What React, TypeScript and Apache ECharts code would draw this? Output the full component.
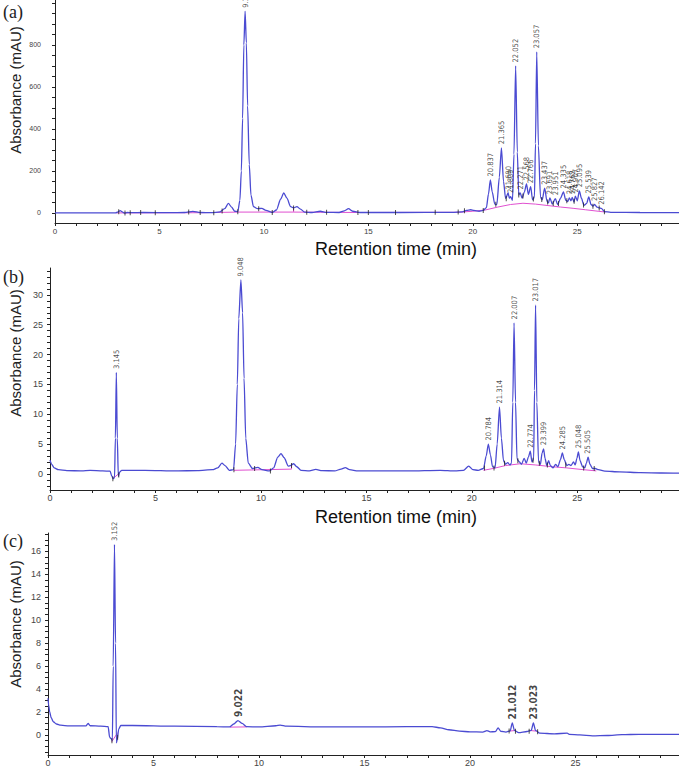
import React, { useEffect, useRef } from "react";
import * as echarts from "echarts";

// ---------- Panel (a) ----------
const traceA: number[][] = [
  [0, 0], [2.9, 0], [3.02, 5], [3.12, 11], [3.22, 5], [3.32, -1], [3.45, 2], [3.7, 1], [4.2, 2], [5.5, 1],
  [6.2, 2], [6.6, 7], [6.95, 2], [7.5, 1], [7.9, 5], [8.12, 20], [8.3, 45], [8.45, 28], [8.6, 8], [8.75, 6],
  [8.85, 60], [8.92, 200], [8.98, 450], [9.04, 800], [9.1, 960], [9.16, 810], [9.22, 510], [9.3, 230], [9.38, 85],
  [9.5, 30], [9.7, 20], [9.9, 22], [10.1, 12], [10.4, 2], [10.6, 14], [10.8, 65], [10.95, 95], [11.1, 70],
  [11.28, 30], [11.42, 24], [11.58, 30], [11.75, 18], [11.95, 4], [12.3, 2], [12.7, 8], [13.0, 3], [13.6, 2],
  [13.85, 10], [14.05, 20], [14.25, 8], [14.6, 2], [16.5, 2], [19.0, 3], [19.5, 5], [19.7, 12], [19.9, 15],
  [20.05, 12], [20.3, 8], [20.5, 12], [20.65, 25], [20.75, 90], [20.84, 157], [20.93, 100], [21.05, 42],
  [21.15, 40], [21.27, 170], [21.37, 310], [21.47, 150], [21.57, 68], [21.69, 95], [21.75, 70], [21.81, 78],
  [21.9, 60], [21.97, 280], [22.05, 700], [22.13, 290], [22.2, 85], [22.27, 95], [22.36, 70], [22.47, 100],
  [22.57, 138], [22.66, 88], [22.77, 125], [22.86, 62], [22.95, 75], [23.0, 330], [23.06, 767], [23.14, 320],
  [23.24, 75], [23.32, 62], [23.44, 118], [23.55, 55], [23.62, 48], [23.69, 72], [23.8, 42], [23.95, 68],
  [24.06, 40], [24.2, 70], [24.34, 100], [24.45, 60], [24.55, 55], [24.62, 72], [24.7, 58], [24.76, 74],
  [24.84, 52], [24.91, 80], [25.0, 58], [25.1, 105], [25.2, 70], [25.32, 36], [25.45, 45], [25.55, 76],
  [25.66, 40], [25.75, 32], [25.83, 40], [25.95, 28], [26.05, 24], [26.15, 22], [26.3, 6], [26.6, 3],
  [28, 2], [30, 1],
];
const baselineA: number[][][] = [
  [[2.95, 0], [7.0, 1], [8.75, 4], [11.42, 4], [11.42, 22]],
  [[11.42, 4], [14.6, 2], [19.3, 3], [20.0, 8], [20.6, 14], [21.2, 28], [21.8, 40], [22.4, 46], [23.0, 42],
    [23.6, 35], [24.2, 28], [24.8, 22], [25.4, 15], [26.0, 8], [26.35, 4]],
];
const markersA: number[][] = [
  [3.05, 6], [3.35, 0], [3.6, 1], [4.1, 2], [4.8, 1], [6.4, 4], [6.95, 2], [7.6, 1], [8.0, 9], [8.75, 6],
  [9.75, 20], [10.4, 2], [11.42, 24], [12.05, 3], [13.0, 3], [14.5, 2], [15.0, 2], [16.3, 2], [18.2, 3],
  [19.3, 4], [19.6, 10], [20.5, 12], [21.1, 41], [21.6, 68], [22.2, 85], [22.4, 80], [22.9, 66], [23.3, 64],
  [23.58, 52], [23.85, 45], [24.1, 45], [24.5, 58], [24.85, 55], [25.3, 38], [25.75, 32], [26.05, 24], [26.3, 6],
];
const peakTimesA = [9.103, 20.837, 21.365, 21.69, 21.809, 22.052, 22.271, 22.568, 22.766, 23.057, 23.437,
  23.691, 23.951, 24.335, 24.618, 24.762, 24.907, 25.095, 25.539, 25.827, 26.142];
const peakHeightsA = [960, 157, 310, 95, 78, 700, 95, 138, 125, 767, 118, 72, 68, 100, 72, 74, 80, 105, 76, 40, 22];
const peakLabelsA = ["9.103", "20.837", "21.365", "21.690", "21.809", "22.052", "22.271", "22.568", "22.766",
  "23.057", "23.437", "23.691", "23.951", "24.335", "24.618", "24.762", "24.907", "25.095", "25.539", "25.827", "26.142"];
const yLabelsA = [0, 200, 400, 600, 800];

// ---------- Panel (b) ----------
const traceB: number[][] = [
  [0, 2.3], [0.08, 1.6], [0.2, 1.0], [0.4, 0.7], [0.8, 0.55], [1.5, 0.5], [1.9, 0.58], [2.5, 0.5], [2.85, 0.45],
  [2.92, -0.3], [3.0, -0.8], [3.06, -0.6], [3.1, 6], [3.145, 17], [3.19, 6], [3.24, -0.4], [3.3, 0.3], [3.4, 0.6],
  [4.5, 0.6], [6.0, 0.5], [7.0, 0.55], [7.7, 0.7], [7.95, 1.0], [8.15, 1.8], [8.3, 1.4], [8.5, 0.6], [8.7, 0.7],
  [8.8, 5], [8.88, 15], [8.95, 26], [9.05, 32.5], [9.13, 27], [9.2, 16], [9.28, 6], [9.4, 1.8], [9.6, 0.9],
  [9.85, 1.1], [10.05, 0.7], [10.4, 0.5], [10.6, 1.0], [10.8, 2.8], [10.95, 3.4], [11.1, 2.7], [11.3, 1.3],
  [11.4, 1.4], [11.55, 1.7], [11.7, 1.2], [11.9, 0.6], [12.3, 0.5], [12.6, 0.75], [12.9, 0.55], [13.5, 0.5],
  [13.8, 0.8], [14.0, 1.05], [14.2, 0.7], [14.6, 0.5], [17, 0.5], [18.5, 0.6], [19.2, 0.5], [19.6, 0.6],
  [19.85, 1.3], [20.05, 0.7], [20.3, 0.6], [20.55, 0.9], [20.68, 3.0], [20.78, 5.0], [20.88, 3.2], [20.98, 1.2],
  [21.1, 1.0], [21.2, 5], [21.31, 11.2], [21.4, 6], [21.5, 2.2], [21.6, 1.6], [21.7, 1.9], [21.8, 1.5],
  [21.88, 1.8], [21.94, 12], [22.0, 25.3], [22.07, 12], [22.14, 2.5], [22.25, 2.0], [22.35, 1.6], [22.48, 2.6],
  [22.58, 1.8], [22.68, 2.8], [22.77, 3.8], [22.85, 2.0], [22.93, 2.5], [22.97, 14], [23.02, 28.3], [23.08, 12],
  [23.16, 2.0], [23.25, 1.6], [23.33, 3.5], [23.4, 4.2], [23.47, 2.6], [23.55, 1.4], [23.64, 2.2], [23.72, 1.4],
  [23.85, 1.0], [23.97, 1.6], [24.08, 1.2], [24.2, 2.4], [24.29, 3.5], [24.38, 2.4], [24.5, 1.4], [24.6, 1.6],
  [24.7, 1.4], [24.82, 2.0], [24.9, 1.5], [24.98, 2.6], [25.05, 3.7], [25.13, 2.2], [25.25, 1.2], [25.35, 1.0],
  [25.43, 1.8], [25.51, 2.8], [25.6, 1.6], [25.72, 0.9], [25.85, 0.9], [26.0, 0.7], [26.3, 0.45], [27, 0.35],
  [28, 0.2], [29, 0.15], [30, 0.1],
];
const baselineB: number[][][] = [
  [[2.98, -0.8], [3.28, 0.1]],
  [[8.72, 0.6], [11.45, 0.8], [11.45, 1.4]],
  [[20.55, 0.6], [21.0, 0.9], [21.6, 1.4], [22.3, 1.7], [23.0, 1.5], [23.8, 1.2], [24.5, 1.0], [25.3, 0.7], [25.9, 0.5]],
];
const markersB: number[][] = [
  [2.98, -0.8], [3.26, -0.2], [8.72, 0.7], [9.7, 0.9], [10.45, 0.5], [11.45, 1.4], [20.6, 1.0], [21.05, 1.0],
  [21.55, 1.8], [22.18, 2.2], [22.9, 2.3], [23.2, 1.8], [23.58, 1.5], [24.45, 1.5], [25.3, 1.0], [25.8, 0.9],
];
const peakTimesB = [3.145, 9.048, 20.784, 21.314, 22.007, 22.774, 23.017, 23.399, 24.285, 25.048, 25.505];
const peakHeightsB = [17, 32.5, 5.0, 11.2, 25.3, 3.8, 28.3, 4.2, 3.5, 3.7, 2.8];
const peakLabelsB = ["3.145", "9.048", "20.784", "21.314", "22.007", "22.774", "23.017", "23.399", "24.285", "25.048", "25.505"];
const yLabelsB = [0, 5, 10, 15, 20, 25, 30];

// ---------- Panel (c) ----------
const traceC: number[][] = [
  [0, 3.2], [0.03, 2.6], [0.08, 2.0], [0.15, 1.5], [0.25, 1.15], [0.4, 0.95], [0.6, 0.85], [1.0, 0.78],
  [1.8, 0.78], [1.9, 1.0], [2.0, 0.8], [2.5, 0.76], [2.85, 0.72], [2.92, -0.2], [3.0, -0.35], [3.05, -0.5],
  [3.09, 6], [3.15, 16.6], [3.2, 8], [3.24, -0.7], [3.28, -0.4], [3.35, 0.5], [3.45, 0.82], [4, 0.82],
  [6, 0.76], [8.0, 0.72], [8.6, 0.7], [8.8, 0.95], [9.0, 1.25], [9.2, 1.0], [9.4, 0.72], [10, 0.7],
  [10.8, 0.8], [11.0, 0.86], [11.3, 0.76], [13, 0.7], [15, 0.7], [17, 0.72], [18.2, 0.72], [18.6, 0.62],
  [19.0, 0.45], [19.5, 0.33], [20, 0.27], [20.6, 0.25], [20.8, 0.38], [20.95, 0.27], [21.2, 0.28],
  [21.33, 0.62], [21.45, 0.32], [21.7, 0.25], [21.9, 0.35], [22.0, 1.05], [22.1, 0.4], [22.3, 0.2],
  [22.7, 0.3], [22.9, 0.4], [23.0, 1.05], [23.1, 0.4], [23.3, 0.15], [24, 0.1], [24.6, 0.15], [24.7, 0.05],
  [25.2, 0.0], [25.8, -0.08], [26.5, -0.05], [27.2, 0.02], [28, 0.05], [30, 0.05],
];
const baselineC: number[][][] = [
  [[3.02, -0.6], [3.3, 0.2]],
  [[8.62, 0.68], [9.42, 0.7]],
  [[21.88, 0.34], [22.12, 0.38]],
  [[22.88, 0.38], [23.15, 0.33]],
];
const markersC: number[][] = [[3.03, -0.5], [3.3, -0.2], [21.85, 0.35], [22.15, 0.32], [22.8, 0.33], [23.2, 0.28]];
const minorPeakTimesC = [3.152];
const minorPeakHeightsC = [16.6];
const minorPeakLabelsC = ["3.152"];
const peakTimesC = [9.022, 22.0, 23.023];
const peakHeightsC = [1.25, 1.05, 1.05];
const peakLabelsC = ["9.022", "21.012", "23.023"];
const yLabelsC = [0, 2, 4, 6, 8, 10, 12, 14, 16];

const xLabels = [0, 5, 10, 15, 20, 25];
const xTicks = [0, 1, 2, 3, 4, 5, 6, 7, 8, 9, 10, 11, 12, 13, 14, 15, 16, 17, 18, 19, 20, 21, 22, 23, 24, 25, 26, 27, 28, 29];
const yTicksA = [0, 50, 100, 150, 200, 250, 300, 350, 400, 450, 500, 550, 600, 650, 700, 750, 800, 850, 900, 950, 1000];
const yTicksB = [-2, -1, 0, 1, 2, 3, 4, 5, 6, 7, 8, 9, 10, 11, 12, 13, 14, 15, 16, 17, 18, 19, 20, 21, 22, 23, 24, 25, 26, 27, 28, 29, 30, 31, 32, 33, 34];
const yTicksC = [-1.5, -1, -0.5, 0, 0.5, 1, 1.5, 2, 2.5, 3, 3.5, 4, 4.5, 5, 5.5, 6, 6.5, 7, 7.5, 8, 8.5, 9, 9.5, 10, 10.5, 11, 11.5, 12, 12.5, 13, 13.5, 14, 14.5, 15, 15.5, 16, 16.5, 17, 17.5];

const TRACE = "#4b4bd2";
const PINK = "#e050d0";
const AXIS = "#222";
const NARROW = "'Liberation Sans Narrow', 'DejaVu Sans Condensed', 'Liberation Sans', sans-serif";

const panels = [
  { trace: traceA, base: baselineA, markers: markersA, pt: peakTimesA, ph: peakHeightsA, pl: peakLabelsA,
    grid: { left: 55, top: 0, width: 624, height: 223 }, xmax: 29.87, ymin: -48, ymax: 1014,
    yLabels: yLabelsA, yTicks: yTicksA, yFont: 7, xFont: 8, yMargin: 14, xMargin: 4 },
  { trace: traceB, base: baselineB, markers: markersB, pt: peakTimesB, ph: peakHeightsB, pl: peakLabelsB,
    grid: { left: 50, top: 268, width: 629, height: 222 }, xmax: 29.82, ymin: -2.7, ymax: 34.5,
    yLabels: yLabelsB, yTicks: yTicksB, yFont: 9, xFont: 9, yMargin: 7, xMargin: 3 },
  { trace: traceC, base: baselineC, markers: markersC, pt: minorPeakTimesC, ph: minorPeakHeightsC, pl: minorPeakLabelsC,
    grid: { left: 48, top: 533, width: 631, height: 222 }, xmax: 29.9, ymin: -1.75, ymax: 17.6,
    yLabels: yLabelsC, yTicks: yTicksC, yFont: 9, xFont: 9, yMargin: 7, xMargin: 3 },
];

function buildOption() {
  const grid: any[] = [];
  const xAxis: any[] = [];
  const yAxis: any[] = [];
  const series: any[] = [];
  panels.forEach((p, i) => {
    grid.push({ ...p.grid, containLabel: false, outerBoundsMode: "none" });
    xAxis.push({
      gridIndex: i, type: "value", min: 0, max: p.xmax,
      axisLine: { show: true, onZero: false, lineStyle: { color: AXIS, width: 1 } },
      axisTick: { show: true, customValues: xTicks, length: 3, lineStyle: { color: AXIS } },
      axisLabel: { customValues: xLabels, fontSize: p.xFont, color: "#444", margin: p.xMargin, fontFamily: "Liberation Sans" },
      splitLine: { show: false },
    });
    yAxis.push({
      gridIndex: i, type: "value", min: p.ymin, max: p.ymax,
      axisLine: { show: true, onZero: false, lineStyle: { color: AXIS, width: 1 } },
      axisTick: { show: true, customValues: p.yTicks, length: 3, lineStyle: { color: AXIS } },
      axisLabel: { customValues: p.yLabels, fontSize: p.yFont, color: "#444", margin: p.yMargin, fontFamily: "Liberation Sans" },
      splitLine: { show: false },
    });
    p.base.forEach((seg) => {
      series.push({
        type: "line", xAxisIndex: i, yAxisIndex: i, data: seg, symbol: "none", silent: true,
        lineStyle: { color: PINK, width: 1 }, z: 2,
      });
    });
    series.push({
      type: "line", xAxisIndex: i, yAxisIndex: i, data: p.trace, symbol: "none", smooth: 0.25,
      smoothMonotone: "x", lineStyle: { color: TRACE, width: 1.3 }, z: 3,
    });
    series.push({
      type: "scatter", xAxisIndex: i, yAxisIndex: i, data: p.markers, symbol: "rect", symbolSize: [1, 5],
      itemStyle: { color: "#222" }, z: 4, silent: true,
    });
    series.push({
      type: "scatter", xAxisIndex: i, yAxisIndex: i, symbolSize: 1, itemStyle: { color: "rgba(0,0,0,0)" }, z: 5,
      clip: false,
      data: p.pt.map((t, k) => ({ value: [t, p.ph[k]], name: p.pl[k] })),
      label: {
        show: true, formatter: "{b}", rotate: 90, position: "top", align: "left", verticalAlign: "middle",
        distance: 3, fontSize: 7.5, color: "#222", fontFamily: NARROW,
      },
    });
  });
  // reported peaks in panel (c), printed larger and bold
  series.push({
    type: "scatter", xAxisIndex: 2, yAxisIndex: 2, symbolSize: 1, itemStyle: { color: "rgba(0,0,0,0)" }, z: 5,
    data: peakTimesC.map((t, k) => ({ value: [t, peakHeightsC[k]], name: peakLabelsC[k] })),
    label: {
      show: true, formatter: "{b}", rotate: 90, position: "top", align: "left", verticalAlign: "middle",
      distance: 3, fontSize: 10, fontWeight: "bold", color: "#111", fontFamily: NARROW,
    },
  });

  const titleFont = "Liberation Sans";
  const graphic: any[] = [
    { type: "text", x: 3, y: 12, style: { text: "(a)", fontSize: 18, fontFamily: "Liberation Serif", fill: "#222", verticalAlign: "middle" } },
    { type: "text", x: 3, y: 277, style: { text: "(b)", fontSize: 18, fontFamily: "Liberation Serif", fill: "#222", verticalAlign: "middle" } },
    { type: "text", x: 3, y: 541, style: { text: "(c)", fontSize: 18, fontFamily: "Liberation Serif", fill: "#222", verticalAlign: "middle" } },
    { type: "text", x: 15, y: 90, rotation: Math.PI / 2, style: { text: "Absorbance (mAU)", fontSize: 15, fontFamily: titleFont, fill: "#222", align: "center", verticalAlign: "middle" } },
    { type: "text", x: 15, y: 353, rotation: Math.PI / 2, style: { text: "Absorbance (mAU)", fontSize: 15, fontFamily: titleFont, fill: "#222", align: "center", verticalAlign: "middle" } },
    { type: "text", x: 15, y: 624, rotation: Math.PI / 2, style: { text: "Absorbance (mAU)", fontSize: 15, fontFamily: titleFont, fill: "#222", align: "center", verticalAlign: "middle" } },
    { type: "text", x: 396, y: 249, style: { text: "Retention time (min)", fontSize: 18, fontFamily: titleFont, fill: "#111", align: "center", verticalAlign: "middle" } },
    { type: "text", x: 396, y: 517, style: { text: "Retention time (min)", fontSize: 18, fontFamily: titleFont, fill: "#111", align: "center", verticalAlign: "middle" } },
    { type: "text", x: 396, y: 785, style: { text: "Retention time (min)", fontSize: 18, fontFamily: titleFont, fill: "#111", align: "center", verticalAlign: "middle" } },
  ];

  return { animation: false, backgroundColor: "#fff", grid, xAxis, yAxis, series, graphic };
}

export default function App() {
  const ref = useRef<HTMLDivElement>(null);
  useEffect(() => {
    if (!ref.current) return;
    const chart = echarts.init(ref.current, null, { renderer: "svg" });
    chart.setOption(buildOption() as any);
    return () => chart.dispose();
  }, []);
  return <div ref={ref} style={{ position: "absolute", left: 0, top: 0, width: 679, height: 778 }} />;
}
